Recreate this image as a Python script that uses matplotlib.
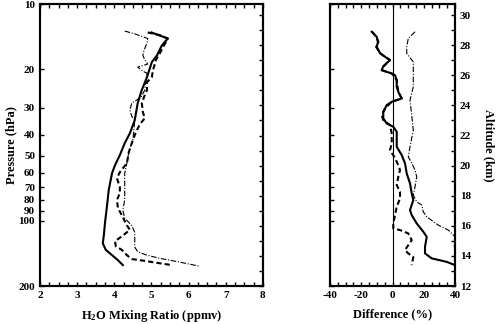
import matplotlib
matplotlib.use("Agg")
import matplotlib.pyplot as plt
from matplotlib.ticker import FixedLocator, MultipleLocator, NullFormatter, FixedFormatter

plt.rcParams['font.family'] = 'Liberation Serif'
plt.rcParams['font.weight'] = 'bold'
plt.rcParams['axes.unicode_minus'] = False
plt.rcParams['mathtext.fontset'] = 'custom'
plt.rcParams['mathtext.rm'] = 'Liberation Serif:bold'
plt.rcParams['mathtext.it'] = 'Liberation Serif:bold'
plt.rcParams['mathtext.bf'] = 'Liberation Serif:bold'

# left panel: H2O mixing ratio (ppmv) vs pressure (hPa)
p_solid = [13.5, 14.4, 15.5, 17.2, 18.5, 21.7, 24.9, 28.6, 34.3, 39.4, 43.8, 49.7, 55.3,
           60.2, 72.1, 86.4, 102, 116, 127, 136, 144, 152, 160]
h2o_solid = [5.00, 5.44, 5.28, 5.15, 5.01, 4.88, 4.74, 4.63, 4.55, 4.42, 4.28, 4.15, 4.02,
             3.94, 3.85, 3.80, 3.75, 3.72, 3.69, 3.77, 3.94, 4.10, 4.23]

p_dash = [13.5, 13.9, 14.4, 15.8, 16.8, 18.1, 20.2, 21.7, 22.9, 24.9, 26.3, 28.6, 31.5,
          33.6, 35.8, 39.0, 43.8, 48.2, 54.1, 59.6, 63.5, 69.8, 74.4, 80.2, 87.3, 94.0,
          105, 110, 118, 124, 131, 136, 144, 150, 153, 157, 160]
h2o_dash = [4.90, 5.23, 5.44, 5.31, 5.23, 5.12, 5.04, 5.01, 4.88, 4.88, 4.82, 4.74, 4.77,
            4.82, 4.69, 4.58, 4.47, 4.39, 4.34, 4.15, 4.07, 4.15, 4.15, 4.07, 4.10, 4.20,
            4.34, 4.42, 4.20, 4.02, 4.04, 4.20, 4.34, 4.47, 4.82, 5.23, 5.55]

p_dot = [13.3, 13.7, 14.4, 15.1, 16.3, 17.2, 18.1, 18.9, 19.5, 20.4, 20.8, 22.4, 24.9,
         26.9, 28.6, 30.8, 32.9, 34.3, 37.3, 42.4, 48.2, 54.1, 60.2, 69.8, 80.2, 89.2,
         97.1, 105, 113, 123, 132, 139, 144, 149, 155, 162]
h2o_dot = [4.28, 4.55, 4.90, 4.88, 4.80, 4.77, 4.82, 4.90, 4.63, 4.77, 4.88, 4.85, 4.82,
           4.72, 4.47, 4.42, 4.47, 4.55, 4.53, 4.50, 4.39, 4.34, 4.28, 4.28, 4.28, 4.23,
           4.28, 4.47, 4.55, 4.55, 4.55, 4.63, 4.88, 5.23, 5.76, 6.30]

# right panel: difference (%) vs altitude (km)
z_solid = [28.89, 28.55, 28.22, 27.89, 27.47, 27.23, 27.01, 26.81, 26.56, 26.34, 26.23,
           26.12, 26.01, 25.68, 25.23, 24.90, 24.46, 24.35, 24.24, 24.02, 23.57, 23.14,
           22.80, 22.58, 22.25, 21.25, 20.70, 20.15, 19.48, 18.82, 18.16, 17.71, 17.05,
           16.71, 16.16, 15.61, 15.27, 14.61, 14.17, 13.84, 13.61, 13.39]
d_solid = [-13.3, -10.1, -9.3, -10.1, -8.0, -4.8, -1.6, -3.7, -6.1, -6.9, -3.7,
           -0.5, 1.6, 2.7, 2.7, 3.7, 5.9, 2.7, -0.5, -3.7, -5.9, -5.9,
           -3.7, 0.5, 2.7, 2.7, 5.9, 8.0, 9.1, 11.2, 12.3, 13.3, 11.2,
           12.3, 15.5, 19.7, 21.9, 20.8, 20.8, 25.1, 34.7, 40.0]

z_dash = [28.89, 28.55, 28.22, 27.89, 27.47, 27.23, 27.01, 26.81, 26.56, 26.34, 26.12,
          25.68, 24.90, 24.46, 24.24, 23.80, 23.35, 23.02, 22.69, 22.14, 21.48, 21.03,
          20.50, 20.03, 19.70, 19.26, 18.71, 18.26, 17.82, 17.27, 16.71, 16.16, 15.83,
          15.72, 15.50, 15.05, 14.72, 14.39, 14.17, 13.93, 13.39]
d_dash = [-13.0, -10.5, -9.0, -10.5, -8.0, -4.8, -1.6, -3.7, -6.1, -6.9, -0.5,
          2.7, 3.7, 5.9, -0.5, -4.8, -6.9, -5.9, -1.6, -0.5, -0.5, -1.6,
          1.6, 3.7, 4.8, 3.7, 2.7, 4.8, 4.8, 2.7, 1.6, 0.5, 0.5,
          4.8, 10.1, 12.3, 10.1, 8.0, 10.1, 13.3, 12.3]

z_dot = [28.89, 28.45, 27.89, 27.45, 26.89, 26.12, 25.23, 24.35, 23.35, 22.36, 21.25,
         20.59, 20.17, 19.70, 19.26, 18.59, 18.04, 17.60, 17.38, 16.93, 16.60, 16.05,
         15.72, 15.39, 15.05, 14.66, 14.26]
d_dot = [14.4, 10.1, 9.1, 9.1, 13.3, 13.3, 13.3, 11.2, 12.3, 13.3, 11.2,
         10.1, 12.3, 14.4, 15.5, 14.4, 13.3, 15.5, 18.7, 19.7, 21.9, 29.3,
         35.7, 38.9, 42.0, 39.4, 43.0]

p_ticks = [10, 20, 30, 40, 50, 60, 70, 80, 90, 100, 200]
z_min, z_max = 12, 30.72

fig = plt.figure(figsize=(5.01, 3.24), dpi=100)
axL = fig.add_axes([0.0798, 0.117, 0.445, 0.870])
axR = fig.add_axes([0.6587, 0.117, 0.2495, 0.870])

tick_kw = dict(direction='in', length=3, width=1, labelsize=8)

# left panel
axLz = axL.twinx()
axL.plot(h2o_solid, p_solid, color='black', lw=1.5)
axL.plot(h2o_dash, p_dash, color='black', lw=1.5, dashes=(2.5, 1.5))
axL.plot(h2o_dot, p_dot, color='black', lw=0.8, dashes=(5, 1.5, 1, 1.5))
axL.set_yscale('log')
axL.set_ylim(200, 10)
axL.set_xlim(2, 8)
axL.yaxis.set_major_locator(FixedLocator(p_ticks))
axL.yaxis.set_major_formatter(FixedFormatter([str(t) for t in p_ticks]))
axL.yaxis.set_minor_locator(FixedLocator([]))
axL.xaxis.set_major_locator(MultipleLocator(1))
axL.xaxis.set_minor_locator(MultipleLocator(0.25))
axL.tick_params(axis='both', which='both', top=True, **tick_kw)
axL.tick_params(axis='y', right=False)
axL.set_xlabel(r'H$_2$O Mixing Ratio (ppmv)', fontsize=9, fontweight='bold', labelpad=6)
axL.set_ylabel('Pressure (hPa)', fontsize=9, fontweight='bold', labelpad=1)

axLz.set_ylim(z_min, z_max)
axLz.yaxis.set_major_locator(MultipleLocator(1))
axLz.yaxis.set_major_formatter(NullFormatter())
axLz.tick_params(axis='y', **tick_kw)

# right panel
axRp = axR.twinx()
axRp.set_yscale('log')
axRp.set_ylim(200, 10)
axRp.yaxis.set_major_locator(FixedLocator(p_ticks))
axRp.yaxis.set_minor_locator(FixedLocator([]))
axRp.yaxis.set_major_formatter(NullFormatter())
axRp.yaxis.tick_left()
axRp.tick_params(axis='y', right=False, **tick_kw)

axR.axvline(0, color='black', lw=0.8)
axR.plot(d_solid, z_solid, color='black', lw=1.5)
axR.plot(d_dash, z_dash, color='black', lw=1.5, dashes=(2.5, 1.5))
axR.plot(d_dot, z_dot, color='black', lw=0.8, dashes=(5, 1.5, 1, 1.5))
axR.set_xlim(-40, 40)
axR.set_ylim(z_min, z_max)
axR.xaxis.set_major_locator(MultipleLocator(20))
axR.xaxis.set_minor_locator(MultipleLocator(5))
axR.yaxis.set_major_locator(MultipleLocator(2))
axR.yaxis.set_minor_locator(MultipleLocator(1))
axR.yaxis.tick_right()
axR.yaxis.set_label_position('right')
axR.tick_params(axis='both', which='both', top=True, right=True, left=False, **tick_kw)
axR.set_xlabel('Difference (%)', fontsize=9, fontweight='bold', labelpad=6)
axR.set_ylabel('Altitude (km)', fontsize=9, fontweight='bold', rotation=270, labelpad=17)

for ax in (axL, axR, axLz, axRp):
    for s in ax.spines.values():
        s.set_linewidth(1.5)
for lab in axL.get_xticklabels() + axL.get_yticklabels() + axR.get_xticklabels() + axR.get_yticklabels():
    lab.set_fontweight('bold')

fig.savefig('out.png', dpi=100)
